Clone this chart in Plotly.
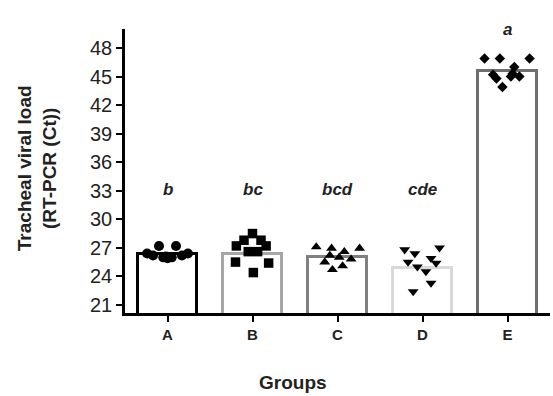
import plotly.graph_objects as go

groups = ["A", "B", "C", "D", "E"]
bar_means = [26.3, 26.4, 26.0, 24.9, 45.6]
bar_colors = ["#000000", "#a6a6a6", "#808080", "#d9d9d9", "#6e6e6e"]
letters = ["b", "bc", "bcd", "cde", "a"]
letter_y = [33.1, 33.1, 33.1, 33.1, 51.2]

a_off = [-0.24, -0.17, -0.10, -0.05, 0.0, 0.05, 0.10, 0.17, 0.24, -0.02]
a_val = [26.4, 26.2, 27.2, 26.0, 25.9, 26.0, 27.2, 26.2, 26.4, 26.1]
b_off = [0.0, -0.10, 0.10, -0.19, 0.16, -0.05, 0.06, -0.20, 0.19, 0.01]
b_val = [28.5, 27.8, 27.8, 27.2, 27.2, 26.6, 26.6, 25.5, 25.4, 24.4]
c_off = [-0.25, -0.07, 0.08, 0.26, -0.15, -0.06, 0.06, 0.16, -0.09, 0.02]
c_val = [27.1, 26.95, 26.6, 26.95, 25.5, 24.7, 25.1, 25.8, 26.2, 26.0]
d_off = [-0.21, -0.09, 0.20, 0.10, -0.17, -0.06, 0.04, 0.16, 0.10, -0.11]
d_val = [26.8, 26.4, 27.0, 25.9, 25.5, 25.0, 24.5, 25.4, 23.3, 22.4]
e_off = [-0.27, -0.09, 0.26, 0.08, -0.17, -0.13, 0.04, 0.14, -0.06, 0.06]
e_val = [46.9, 46.9, 46.9, 46.0, 45.2, 44.8, 45.0, 45.0, 43.9, 45.3]

offsets = [a_off, b_off, c_off, d_off, e_off]
values = [a_val, b_val, c_val, d_val, e_val]
symbols = ["circle", "square", "triangle-up", "triangle-down", "diamond"]
sizes = [10, 9.5, 9.5, 9.5, 8]

yticks = [21, 24, 27, 30, 33, 36, 39, 42, 45, 48]
y_range = [20.15, 50]
FONT = "Liberation Sans, Arial"

fig = go.Figure()
fig.add_trace(go.Bar(
    x=list(range(len(groups))), y=bar_means, base=0, width=0.69,
    marker=dict(color="white", line=dict(color=bar_colors, width=3)),
    showlegend=False,
))
for i, (off, val) in enumerate(zip(offsets, values)):
    fig.add_trace(go.Scatter(
        x=[i + o for o in off], y=val, mode="markers",
        marker=dict(symbol=symbols[i], size=sizes[i], color="black", line=dict(width=0)),
        showlegend=False, cliponaxis=False,
    ))

for i, (lt, ly) in enumerate(zip(letters, letter_y)):
    fig.add_annotation(x=i, xref="x", yref="paper",
                       y=(ly - y_range[0]) / (y_range[1] - y_range[0]),
                       text="<b><i>" + lt + "</i></b>", showarrow=False,
                       font=dict(family=FONT, size=17, color="#222"))

fig.add_annotation(xref="paper", yref="paper", x=-0.207, y=0.51, xanchor="center", yanchor="middle",
                   text="<b>Tracheal viral load<br>(RT-PCR (Ct))</b>", textangle=-90, showarrow=False,
                   font=dict(family=FONT, size=19, color="#222"))

fig.add_annotation(xref="paper", yref="paper", x=0.395, y=-0.246, xanchor="center", yanchor="middle",
                   text="<b>Groups</b>", showarrow=False,
                   font=dict(family=FONT, size=19, color="#222"))

fig.update_layout(
    width=553, height=396,
    margin=dict(l=125, r=3, t=29, b=83),
    paper_bgcolor="white", plot_bgcolor="white",
    bargap=0,
    xaxis=dict(range=[-0.5, 4.5], tickvals=list(range(len(groups))), ticktext=["<b>" + g + "</b>" for g in groups],
               showline=True, linecolor="black", linewidth=2.5, ticks="outside", ticklen=6, tickwidth=2,
               tickcolor="black", showgrid=False, zeroline=False, automargin=False,
               tickfont=dict(family=FONT, size=15, color="#222")),
    yaxis=dict(range=y_range, tickvals=yticks, showline=True, linecolor="black", linewidth=2.5,
               ticks="outside", ticklen=6, tickwidth=2, tickcolor="black", showgrid=False, zeroline=False,
               automargin=False,
               tickfont=dict(family=FONT, size=20, color="#222")),
)
fig.write_html("out.html", config={"displayModeBar": False},
               post_script="document.body.style.margin='0';document.body.style.overflow='hidden';")
